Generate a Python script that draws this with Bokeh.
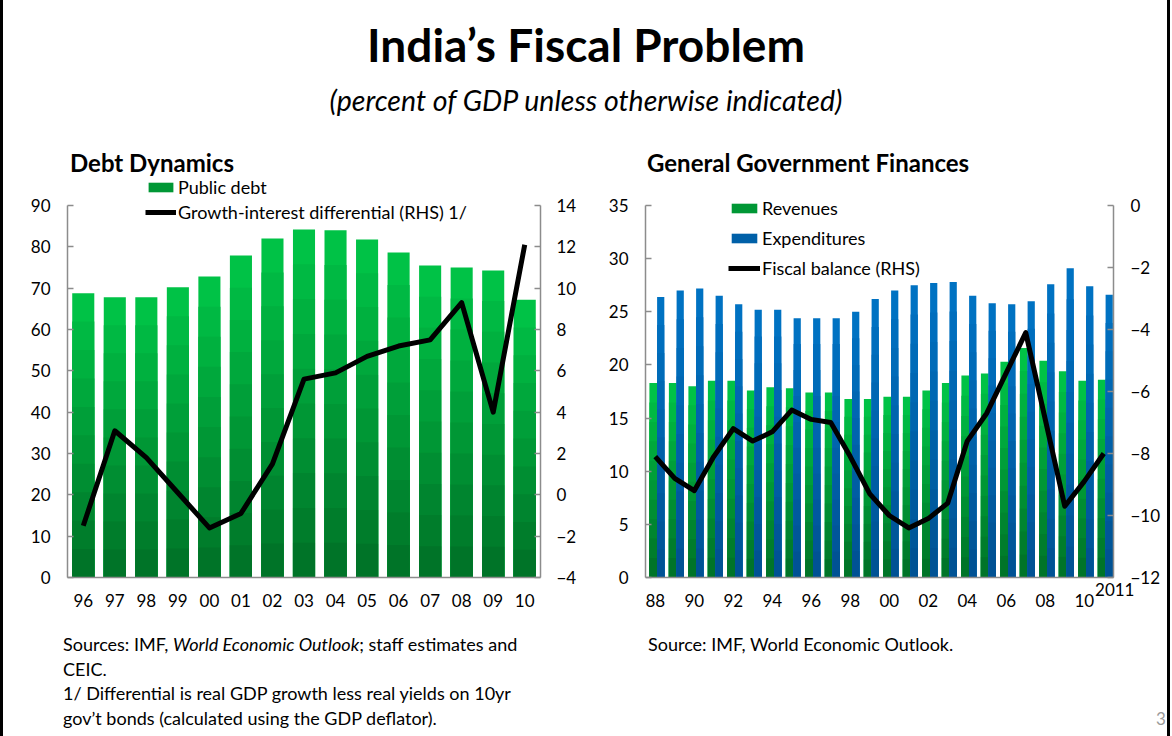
from bokeh.plotting import figure
from bokeh.models import Range1d, LinearAxis, FixedTicker, Legend, LegendItem, Label, Div, ColumnDataSource
from bokeh.layouts import column, row
from bokeh.embed import file_html
from bokeh.resources import INLINE

# ---------------- data ----------------
debt_years = list(range(1996, 2011))
debt_tick_labels = ["96", "97", "98", "99", "00", "01", "02", "03", "04", "05", "06", "07", "08", "09", "10"]
public_debt = [68.8, 67.8, 67.8, 70.2, 72.8, 77.9, 82.0, 84.2, 84.0, 81.8, 78.6, 75.5, 75.0, 74.3, 67.2]
growth_interest_diff = [-1.5, 3.1, 1.8, 0.1, -1.6, -0.9, 1.5, 5.6, 5.9, 6.7, 7.2, 7.5, 9.3, 4.0, 12.1]

fin_years = list(range(1988, 2012))
fin_tick_years = list(range(1988, 2012, 2))
fin_tick_labels = ["88", "90", "92", "94", "96", "98", "00", "02", "04", "06", "08", "10"]
revenues = [18.3, 18.3, 18.0, 18.5, 18.5, 17.6, 17.9, 17.8, 17.4, 17.4, 16.8, 16.8,
            17.0, 17.0, 17.6, 18.3, 19.0, 19.2, 20.3, 21.6, 20.4, 19.4, 18.5, 18.6]
expenditures = [26.4, 27.0, 27.2, 26.5, 25.7, 25.2, 25.2, 24.4, 24.4, 24.4, 25.0, 26.2,
                27.0, 27.5, 27.7, 27.8, 26.5, 25.8, 25.7, 26.0, 27.6, 29.1, 27.4, 26.6]
fiscal_balance = [-8.1, -8.8, -9.2, -8.1, -7.2, -7.6, -7.3, -6.6, -6.9, -7.0, -8.1, -9.3,
                  -10.0, -10.4, -10.1, -9.6, -7.6, -6.7, -5.4, -4.1, -6.9, -9.7, -8.9, -8.0]

# ---------------- style ----------------
FONT = "Lato"
AXIS_GRAY = "#8c8c8c"
GREEN_TOP, GREEN_BOT = (0, 194, 70), (0, 116, 40)
BLUE_TOP, BLUE_BOT = (0, 114, 194), (0, 82, 148)
N_SHADES = 10

HEADER_H = 176          # height of the header block
FIG_W = 586
FIG_H = 449             # height of each chart canvas
AX_TOP = 29             # px from canvas top to the top tick of the y axes
AX_BOTTOM = 401         # px from canvas top to the x axis line
R_LEFT, R_RIGHT = 59, 527   # right chart: px of the two y axes from canvas left


def blend(c1, c2, t):
    r = [round(a + (b - a) * t) for a, b in zip(c1, c2)]
    return "#%02x%02x%02x" % tuple(r)


def extended(lo, hi, frame_top, frame_bottom):
    """range whose [lo, hi] maps to the axis pixels, while the frame spans frame_top..frame_bottom"""
    per_px = (hi - lo) / (AX_BOTTOM - AX_TOP)
    return Range1d(lo - (frame_bottom - AX_BOTTOM) * per_px, hi + (AX_TOP - frame_top) * per_px)


def style_axis(ax, standoff, ticks=True):
    ax.axis_line_color = AXIS_GRAY
    ax.axis_line_width = 1.5
    ax.minor_tick_line_color = None
    if ticks:
        ax.major_tick_in = 6
        ax.major_tick_out = 0
        ax.major_tick_line_color = AXIS_GRAY
        ax.major_tick_line_width = 1.5
    else:
        ax.major_tick_line_color = None
        ax.major_tick_in = 0
        ax.major_tick_out = 0
    ax.major_label_text_font = FONT
    ax.major_label_text_font_size = "17px"
    ax.major_label_text_color = "#000000"
    ax.major_label_standoff = standoff


def gradient_bars(p, x, values, width, top_c, bot_c):
    mid = None
    for k in range(N_SHADES):
        frac = (N_SHADES - k) / N_SHADES
        src = ColumnDataSource(dict(x=x, top=[v * frac for v in values]))
        r = p.vbar(x="x", top="top", bottom=0, width=width, source=src,
                   fill_color=blend(top_c, bot_c, k / (N_SHADES - 1)), line_color=None)
        if k == N_SHADES // 2:
            mid = r
    return mid


def base_fig(xr, yr, left, right, bottom):
    p = figure(width=FIG_W, height=FIG_H, x_range=xr, y_range=yr,
               output_backend="svg", toolbar_location=None,
               min_border_left=left, min_border_right=right,
               min_border_top=0, min_border_bottom=bottom)
    p.outline_line_color = None
    p.xgrid.grid_line_color = None
    p.ygrid.grid_line_color = None
    p.background_fill_color = "white"
    p.border_fill_color = "white"
    return p


def make_legend(items, vx, vy, spacing, gw):
    lg = Legend(items=items, location=(vx, vy), orientation="vertical")
    lg.background_fill_alpha = 0
    lg.border_line_alpha = 0
    lg.padding = 0
    lg.margin = 0
    lg.spacing = spacing
    lg.glyph_width = gw
    lg.glyph_height = 12
    lg.label_height = 12
    lg.label_standoff = 2
    lg.label_text_font = FONT
    lg.label_text_font_size = "18px"
    lg.label_text_color = "#000000"
    return lg


# ---------------- left: Debt Dynamics ----------------
p1 = base_fig(Range1d(1995.5, 2010.5), extended(0, 90, 0, AX_BOTTOM), 67, 46, FIG_H - AX_BOTTOM)
p1.extra_y_ranges = {"rhs": extended(-4, 14, 0, AX_BOTTOM)}
p1.yaxis.ticker = FixedTicker(ticks=list(range(0, 91, 10)))
p1.yaxis.bounds = (0, 90)
style_axis(p1.yaxis[0], 17)
p1.xaxis.ticker = FixedTicker(ticks=debt_years)
p1.xaxis.major_label_overrides = {y: l for y, l in zip(debt_years, debt_tick_labels)}
style_axis(p1.xaxis[0], 16, ticks=False)
rax1 = LinearAxis(y_range_name="rhs", ticker=FixedTicker(ticks=list(range(-4, 15, 2))), bounds=(-4, 14))
style_axis(rax1, 16)
p1.add_layout(rax1, "right")

bar1 = gradient_bars(p1, debt_years, public_debt, 0.7, GREEN_TOP, GREEN_BOT)
line1 = p1.line(debt_years, growth_interest_diff, y_range_name="rhs",
                line_color="black", line_width=5, line_join="round")
p1.add_layout(make_legend([LegendItem(label="Public debt", renderers=[bar1]),
                           LegendItem(label="Growth-interest differential (RHS) 1/", renderers=[line1])],
                          78, 354, 3, 31))

# ---------------- right: General Government Finances ----------------
x_lo, x_hi = fin_years[0] - 0.5, fin_years[-1] + 0.5
per_year_px = (R_RIGHT - R_LEFT) / (x_hi - x_lo)
p2 = base_fig(Range1d(x_lo, x_hi + (FIG_W - R_RIGHT) / per_year_px),
              extended(0, 35, 0, FIG_H), R_LEFT, 0, 0)
p2.extra_y_ranges = {"rhs": extended(-12, 0, 0, FIG_H)}
p2.yaxis.ticker = FixedTicker(ticks=list(range(0, 36, 5)))
p2.yaxis.bounds = (0, 35)
style_axis(p2.yaxis[0], 17)
p2.xaxis.ticker = FixedTicker(ticks=fin_tick_years)
p2.xaxis.major_label_overrides = {y: l for y, l in zip(fin_tick_years, fin_tick_labels)}
p2.xaxis.fixed_location = 0
p2.xaxis.bounds = (x_lo, x_hi)
style_axis(p2.xaxis[0], 16, ticks=False)
rax2 = LinearAxis(y_range_name="rhs", ticker=FixedTicker(ticks=list(range(-12, 1, 2))),
                  bounds=(-12, 0), fixed_location=x_hi)
style_axis(rax2, 17)
p2.add_layout(rax2, "right")

rev_x = [y - 0.1 for y in fin_years]
exp_x = [y + 0.28 for y in fin_years]
bar_rev = gradient_bars(p2, rev_x, revenues, 0.4, GREEN_TOP, GREEN_BOT)
bar_exp = gradient_bars(p2, exp_x, expenditures, 0.37, BLUE_TOP, BLUE_BOT)
line2 = p2.line(fin_years, fiscal_balance, y_range_name="rhs",
                line_color="black", line_width=5, line_join="round")
p2.add_layout(make_legend([LegendItem(label="Revenues", renderers=[bar_rev]),
                           LegendItem(label="Expenditures", renderers=[bar_exp]),
                           LegendItem(label="Fiscal balance (RHS)", renderers=[line2])],
                          83, 346, 8, 32))
p2.add_layout(Label(x=fin_years[-1], y=0, text="2011", x_offset=11, y_offset=-5,
                    text_align="center", text_baseline="top",
                    text_font=FONT, text_font_size="17px", text_color="#000000"))

# ---------------- texts ----------------
header = Div(width=1172, height=HEADER_H, margin=0, text=(
    '<div style="position:relative;width:1172px;height:176px;font-family:Lato;color:#000">'
    '<div style="position:fixed;left:0;top:0;width:1170px;height:736px;box-sizing:border-box;z-index:1000;'
    'border-left:3px solid #000;border-right:3px solid #000;pointer-events:none"></div>'
    '<div style="position:absolute;left:0;top:20px;width:1172px;text-align:center;font-weight:bold;'
    'font-size:46px;line-height:50px">India’s Fiscal Problem</div>'
    '<div style="position:absolute;left:0;top:84px;width:1172px;text-align:center;font-style:italic;'
    'font-size:28.5px;line-height:32px">(percent of GDP unless otherwise indicated)</div>'
    '<div style="position:absolute;left:70px;top:149px;font-weight:bold;font-size:24px;line-height:28px;'
    'white-space:nowrap">Debt Dynamics</div>'
    '<div style="position:absolute;left:647px;top:149px;font-weight:bold;font-size:24px;line-height:28px;'
    'white-space:nowrap">General Government Finances</div>'
    '</div>'))

src1 = Div(width=FIG_W, height=736 - HEADER_H - FIG_H, margin=0, text=(
    '<div style="font-family:Lato;font-size:18px;line-height:24.5px;padding:7px 0 0 63px;'
    'white-space:nowrap;color:#000">Sources: IMF, <i>World Economic Outlook</i>; staff estimates and<br>'
    'CEIC.<br>1/ Differential is real GDP growth less real yields on 10yr<br>'
    'gov’t bonds (calculated using the GDP deflator).</div>'))

src2 = Div(width=FIG_W, height=736 - HEADER_H - FIG_H, margin=0, text=(
    '<div style="position:relative;width:586px;height:111px;font-family:Lato;color:#000">'
    '<div style="position:absolute;left:62px;top:7px;font-size:18px;line-height:24.5px;white-space:nowrap">'
    'Source: IMF, World Economic Outlook.</div>'
    '<div style="position:absolute;left:570px;top:82px;font-size:17px;color:#9a9a9a">3</div>'
    '</div>'))

layout = column(header, row(column(p1, src1, spacing=0), column(p2, src2, spacing=0), spacing=0), spacing=0)
open("out.html", "w").write(file_html(layout, INLINE))
